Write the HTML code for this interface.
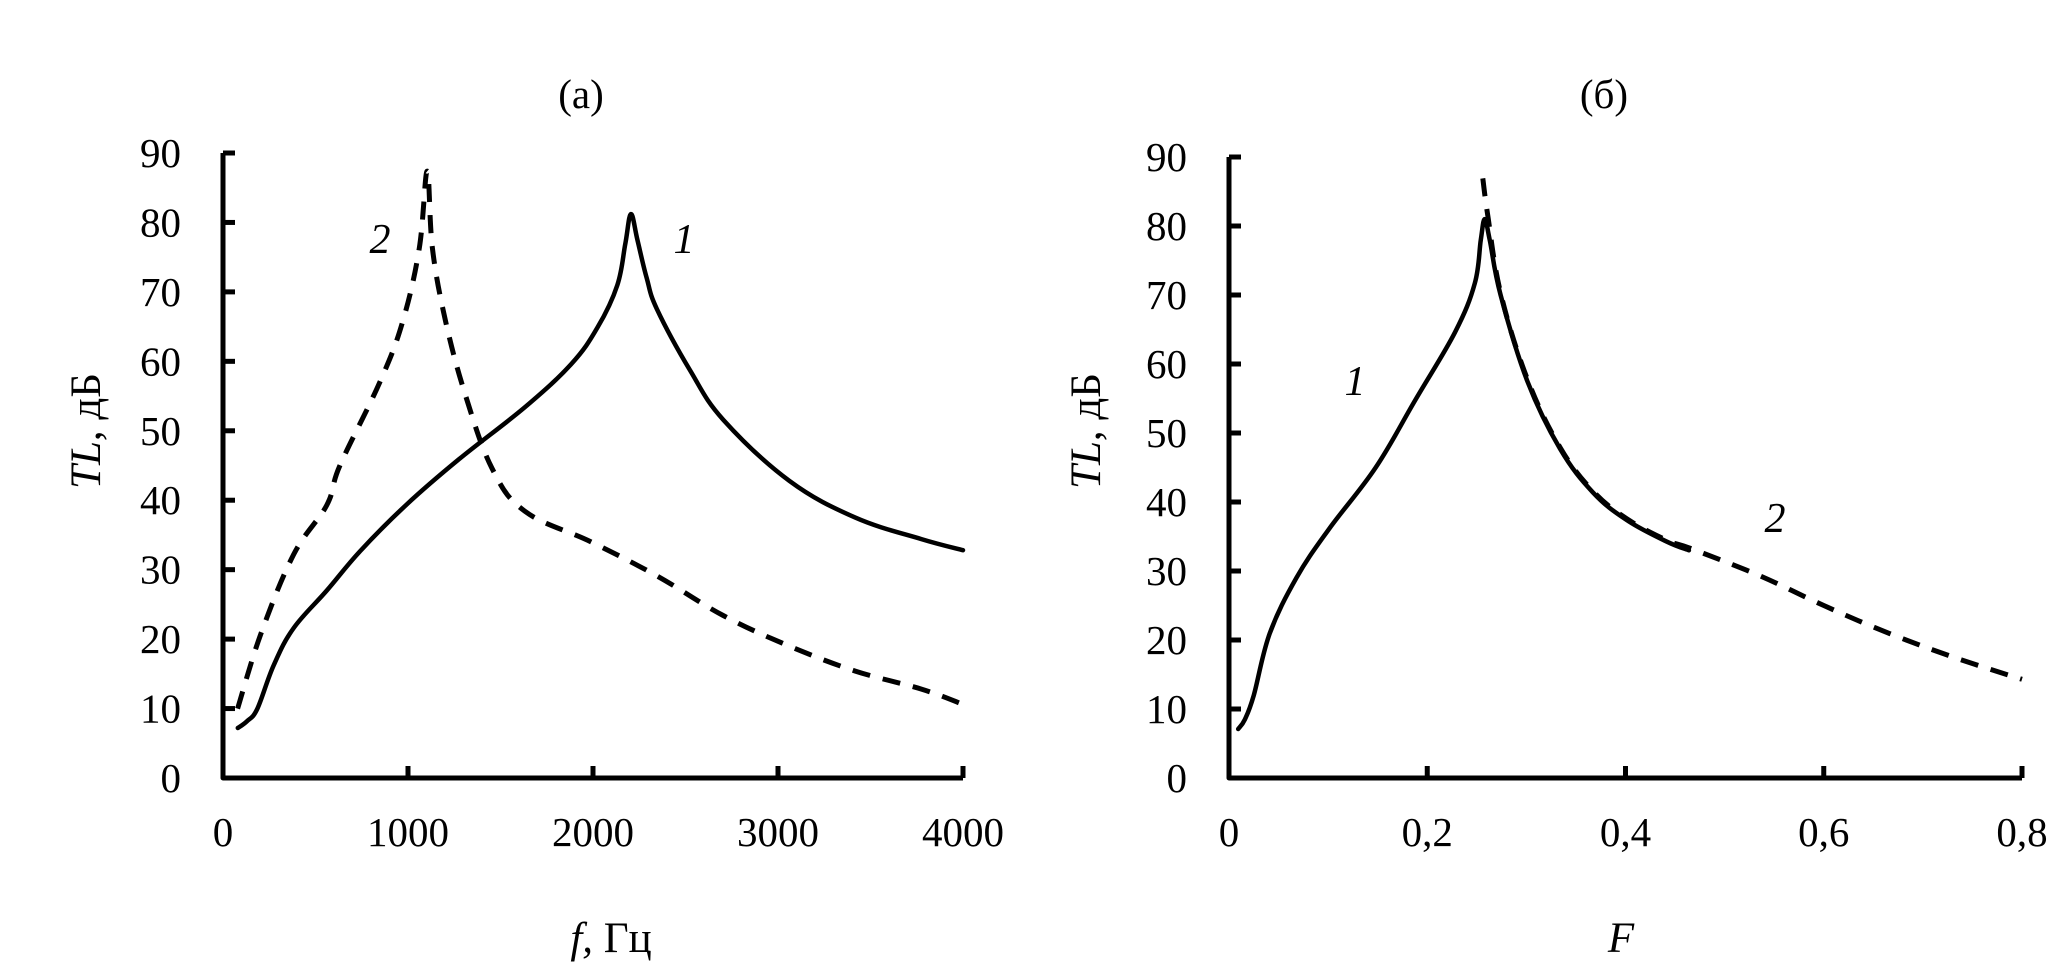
<!DOCTYPE html>
<html><head><meta charset="utf-8">
<style>
html,body{margin:0;padding:0;background:#fff;}
svg{display:block;}
text{font-family:"Liberation Serif",serif;fill:#000;}
</style></head>
<body>
<svg id="chart" width="2067" height="966" viewBox="0 0 2067 966" xmlns="http://www.w3.org/2000/svg">
<g id="pa"></g>
<g id="pb"></g>
</svg>
<script>
// Panel (a) data
const aFreq1 = [80,130,186,275,382,561,739,989,1275,1632,1882,2025,2132,2175,2205,2240,2290,2346,2525,2704,3061,3418,3775,4000];
const aTL1   = [7.2,8.2,10,16.3,21.6,27,32.6,39.3,45.9,53.4,59.6,64.9,71,77,81.2,77.5,72,67.5,58.7,51.6,42.8,37.5,34.4,32.8];
const aFreq2 = [79,204,382,561,632,846,971,1061,1104,1132,1204,1311,1454,1632,1989,2346,2704,3061,3418,3775,4000];
const aTL2   = [10,20.7,32.2,39.3,45,56.9,65.7,76.3,87.4,76.3,65.7,55.1,44.6,38.4,34,29.1,23.4,19,15.4,12.8,10.6];
const aXTicks = [0,1000,2000,3000,4000];
const aXTickLabels = ["0","1000","2000","3000","4000"];
// Panel (b) data
const bF1  = [0.0093,0.016,0.025,0.041,0.068,0.101,0.148,0.188,0.228,0.248,0.254,0.258,0.263,0.274,0.301,0.334,0.367,0.401,0.441,0.464];
const bTL1 = [7.1,8.5,12,20.9,29,36.1,45,54.8,64.6,71.7,78,81,78,70,57.5,47.7,41.4,37.4,34.3,33];
const bF2  = [0.256,0.261,0.274,0.301,0.334,0.367,0.401,0.441,0.467,0.534,0.6,0.667,0.733,0.8];
const bTL2 = [86.9,81.6,70.3,57.8,47.9,41.6,37.6,34.5,33.2,29.4,25,20.9,17.4,14.3];
const bXTicks = [0,0.2,0.4,0.6,0.8];
const bXTickLabels = ["0","0,2","0,4","0,6","0,8"];
const yTicks = [0,10,20,30,40,50,60,70,80,90];

const NS="http://www.w3.org/2000/svg";
function mk(parent,tag,attrs){const e=document.createElementNS(NS,tag);for(const k in attrs)e.setAttribute(k,attrs[k]);parent.appendChild(e);return e;}
function txt(parent,x,y,s,size,anchor,italic){const t=mk(parent,'text',{x:x,y:y,'font-size':size,'text-anchor':anchor||'middle'});if(italic)t.setAttribute('font-style','italic');t.textContent=s;return t;}
function smooth(P){
  let d=`M${P[0][0].toFixed(1)},${P[0][1].toFixed(1)}`;
  for(let i=0;i<P.length-1;i++){
    const p0=P[Math.max(0,i-1)],p1=P[i],p2=P[i+1],p3=P[Math.min(P.length-1,i+2)];
    const t=0.18;
    const c1=[p1[0]+(p2[0]-p0[0])*t,p1[1]+(p2[1]-p0[1])*t];
    const c2=[p2[0]-(p3[0]-p1[0])*t,p2[1]-(p3[1]-p1[1])*t];
    d+=` C${c1[0].toFixed(1)},${c1[1].toFixed(1)} ${c2[0].toFixed(1)},${c2[1].toFixed(1)} ${p2[0].toFixed(1)},${p2[1].toFixed(1)}`;
  }
  return d;
}

function panel(g,cfg){
  const xs=v=>cfg.x0+(v-cfg.xmin)/(cfg.xmax-cfg.xmin)*(cfg.x1-cfg.x0);
  const ys=v=>cfg.y0-(v/90)*(cfg.y0-cfg.y1);
  const ax=mk(g,'path',{d:`M${cfg.x0},${cfg.y1} V${cfg.y0} H${cfg.x1}`,fill:'none',stroke:'#000','stroke-width':5,'stroke-linejoin':'round'});
  
  
  yTicks.forEach(v=>{
    const t=mk(g,'line',{x1:cfg.x0,x2:cfg.x0+12,y1:ys(v),y2:ys(v),stroke:'#000','stroke-width':5});
    
    
    const l=txt(g,181+cfg.dx,ys(v)+14,String(v),41,'end');
    
    
  });
  cfg.xt.forEach((v,i)=>{
    if(i>0){const t=mk(g,'line',{x1:xs(v),x2:xs(v),y1:cfg.y0,y2:cfg.y0-12,stroke:'#000','stroke-width':5});
    
    }
    const l=txt(g,xs(v),846,cfg.xl[i],41,'middle');
    
    
  });
  const pts=(X,Y)=>X.map((x,i)=>[xs(x),ys(Y[i])]);
  const s1=mk(g,'path',{d:smooth(pts(cfg.X1,cfg.Y1)),fill:'none',stroke:'#000','stroke-width':4.5,'stroke-linejoin':'round','stroke-linecap':'round'});
  
  
  const s2=mk(g,'path',{d:smooth(pts(cfg.X2,cfg.Y2)),fill:'none',stroke:'#000','stroke-width':5,'stroke-dasharray':'18 13','stroke-linejoin':'round'});
  
  
}
const pa=document.getElementById('pa'), pb=document.getElementById('pb');
panel(pa,{x0:223,x1:963,y0:778,y1:153,xmin:0,xmax:4000,dx:0,xt:aXTicks,xl:aXTickLabels,X1:aFreq1,Y1:aTL1,X2:aFreq2,Y2:aTL2});
panel(pb,{x0:1229,x1:2022,y0:778,y1:157,xmin:0,xmax:0.8,dx:1006,xt:bXTicks,xl:bXTickLabels,X1:bF1,Y1:bTL1,X2:bF2,Y2:bTL2});

function label(g,x,y,s,size,italic,name){
  const t=txt(g,x,y,s,size,'middle',italic);
  
  
  return t;
}
label(pa,581,108,'(a)',41,false,'panel-title-a');
label(pb,1604,108,'(б)',41,false,'panel-title-b');
function ylab(g,x){
  const t=mk(g,'text',{x:x,y:431,'font-size':43,'text-anchor':'middle',transform:`rotate(-90 ${x} 431)`});
  t.innerHTML='<tspan font-style="italic">TL</tspan>, дБ';
  
  
}
ylab(pa,100); ylab(pb,1100);
const xa=mk(pa,'text',{x:611,y:952,'font-size':43,'text-anchor':'middle'});
xa.innerHTML='<tspan font-style="italic">f,</tspan> Гц';


label(pb,1621,952,'F',43,true,'x-axis-title');
label(pa,380,253,'2',42,true,'curve-label-2');
label(pa,684,253,'1',42,true,'curve-label-1');
label(pb,1355,395,'1',42,true,'curve-label-1');
label(pb,1775,532,'2',42,true,'curve-label-2');
</script>
</body></html>
